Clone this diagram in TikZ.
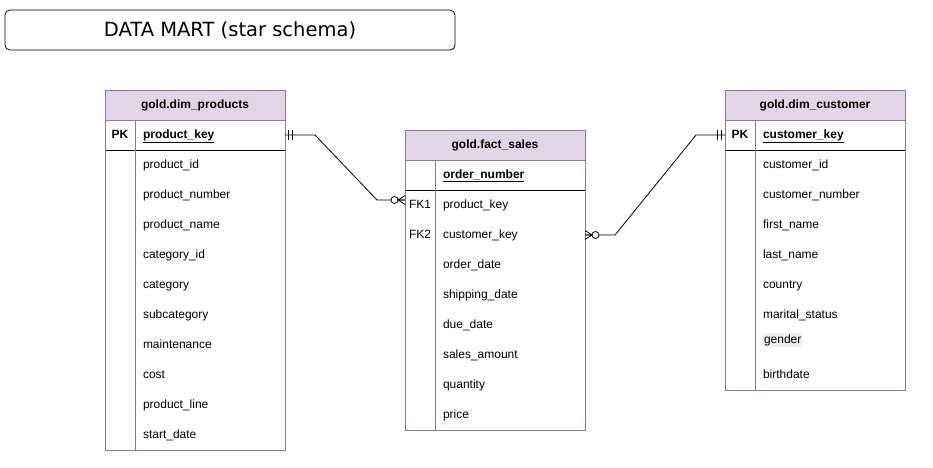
\documentclass[tikz,border=0pt]{standalone}
\usepackage{fontspec}
\setmainfont{Liberation Sans}
\newfontfamily\titlefont{DejaVu Sans}
\usetikzlibrary{positioning,calc}
\definecolor{hdrfill}{HTML}{E1D5E7}
\definecolor{hdrline}{HTML}{9673A6}
\definecolor{hlgray}{HTML}{EEEEEE}
\setlength{\fboxsep}{1pt}

\begin{document}
\begin{tikzpicture}[x=1pt, y=-1pt,
    every node/.style={font=\fontsize{12}{14}\selectfont, outer sep=0pt},
    head/.style={draw=hdrline, fill=hdrfill, line width=1pt, minimum width=180pt, minimum height=30pt, inner sep=0pt, font=\fontsize{12}{14}\selectfont\bfseries},
    field/.style={text width=130pt, text height=9pt, text depth=3pt, minimum height=30pt, inner sep=0pt, align=left},
    keycol/.style={minimum width=30pt, text height=9pt, text depth=3pt, minimum height=30pt, inner sep=0pt},
    tbl/.style={draw=hdrline, line width=1pt},
    rel/.style={line width=0.8pt},
    mandone/.pic={\draw[rel] (3.5pt,-5pt) -- (3.5pt,5pt) (7.5pt,-5pt) -- (7.5pt,5pt);},
    zeromany/.pic={\draw[rel] (0pt,-4.5pt) -- (7pt,0pt) -- (0pt,4.5pt) (0pt,0pt) -- (7pt,0pt);
                   \draw[rel, fill=white] (10.5pt,0pt) circle (3.5pt);}
  ]
    \useasboundingbox (0,0) rectangle (933,467);

    \node [draw, line width=0.8pt, rounded corners=5pt, minimum width=450pt, minimum height=40pt,
           font=\titlefont\fontsize{19.5}{22}\selectfont] (title) at (230,30) {DATA MART (star schema)};

    % products
    \node [head] (prodHead) at (195,105) {gold.dim\_products};
    \node [field, below right=0pt and 38pt of prodHead.south west] (pKey) {\textbf{\underline{product\_key}}};
    \node [field] [below=0pt of pKey] (pId) {product\_id};
    \node [field] [below=0pt of pId] (pNum) {product\_number};
    \node [field] [below=0pt of pNum] (pName) {product\_name};
    \node [field] [below=0pt of pName] (pCatId) {category\_id};
    \node [field] [below=0pt of pCatId] (pCat) {category};
    \node [field] [below=0pt of pCat] (pSub) {subcategory};
    \node [field] [below=0pt of pSub] (pMaint) {maintenance};
    \node [field] [below=0pt of pMaint] (pCost) {cost};
    \node [field] [below=0pt of pCost] (pLine) {product\_line};
    \node [field] [below=0pt of pLine] (pDate) {start\_date};
    \node [keycol] [left=8pt of pKey] (pPK) {\textbf{PK}};
    \draw (prodHead.west |- pKey.south) -- (prodHead.east |- pKey.south);
    \draw [tbl] (pPK.north east) -- (pPK.east |- pDate.south);
    \draw [tbl] (prodHead.north west) rectangle (prodHead.east |- pDate.south);

    % fact
    \node [head] (factHead) at (495,145) {gold.fact\_sales};
    \node [field, below right=0pt and 38pt of factHead.south west] (fOrder) {\textbf{\underline{order\_number}}};
    \node [field] [below=0pt of fOrder] (fProd) {product\_key};
    \node [field] [below=0pt of fProd] (fCust) {customer\_key};
    \node [field] [below=0pt of fCust] (fOdate) {order\_date};
    \node [field] [below=0pt of fOdate] (fShip) {shipping\_date};
    \node [field] [below=0pt of fShip] (fDue) {due\_date};
    \node [field] [below=0pt of fDue] (fAmount) {sales\_amount};
    \node [field] [below=0pt of fAmount] (fQty) {quantity};
    \node [field] [below=0pt of fQty] (fPrice) {price};
    \node [keycol] [left=8pt of fOrder] (fPK) {};
    \node [keycol] [left=8pt of fProd] (fFK1) {FK1};
    \node [keycol] [left=8pt of fCust] (fFK2) {FK2};
    \draw (factHead.west |- fOrder.south) -- (factHead.east |- fOrder.south);
    \draw [tbl] (fPK.north east) -- (fPK.east |- fPrice.south);
    \draw [tbl] (factHead.north west) rectangle (factHead.east |- fPrice.south);

    % customer
    \node [head] (custHead) at (815,105) {gold.dim\_customer};
    \node [field, below right=0pt and 38pt of custHead.south west] (cKey) {\textbf{\underline{customer\_key}}};
    \node [field] [below=0pt of cKey] (cId) {customer\_id};
    \node [field] [below=0pt of cId] (cNum) {customer\_number};
    \node [field] [below=0pt of cNum] (cFirst) {first\_name};
    \node [field] [below=0pt of cFirst] (cLast) {last\_name};
    \node [field] [below=0pt of cLast] (cCountry) {country};
    \node [field] [below=0pt of cCountry] (cMarital) {marital\_status};
    \node [field, minimum height=20pt] [below=0pt of cMarital] (cGender) {\colorbox{hlgray}{gender}};
    \node [field] [below=10pt of cGender] (cBirth) {birthdate};
    \node [keycol] [left=8pt of cKey] (cPK) {\textbf{PK}};
    \draw (custHead.west |- cKey.south) -- (custHead.east |- cKey.south);
    \draw [tbl] (cPK.north east) -- (cPK.east |- cBirth.south);
    \draw [tbl] (custHead.north west) rectangle (custHead.east |- cBirth.south);

    % relations
    \coordinate (fIn) at (factHead.west |- fProd);
    \draw [rel] (prodHead.east |- pKey) -- ++(30,0) -- ($([yshift=5pt]fIn)+(-28,0)$) -- ([yshift=5pt]fIn);
    \draw [rel] (factHead.east |- fCust) -- ++(30,0) -- ($(custHead.west |- cKey)+(-29,0)$) -- (custHead.west |- cKey);
    \pic at (prodHead.east |- pKey) {mandone};
    \pic [rotate=180] at ([yshift=5pt]fIn) {zeromany};
    \pic at (factHead.east |- fCust) {zeromany};
    \pic [rotate=180] at (custHead.west |- cKey) {mandone};
\end{tikzpicture}
\end{document}
